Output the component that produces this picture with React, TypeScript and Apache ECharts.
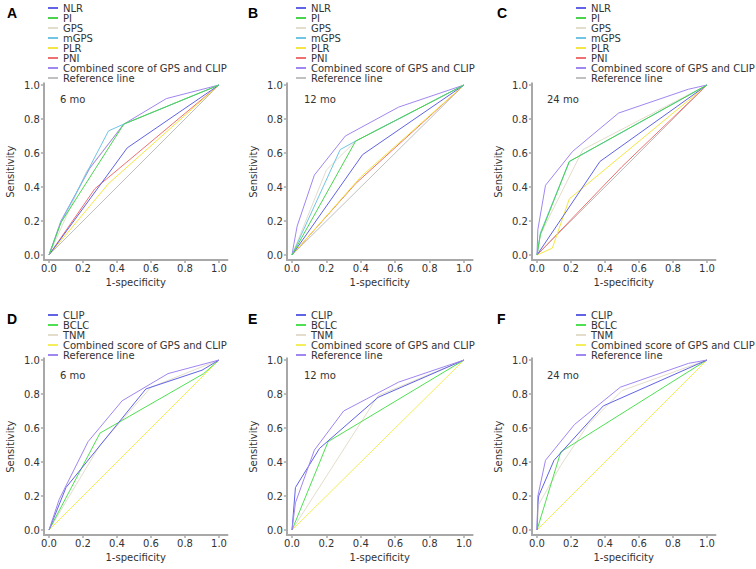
import React, { useEffect, useRef } from "react";
import * as echarts from "echarts";

// ---------- data (1-specificity, sensitivity) ----------
// Panel A, 6 mo
const A_NLR = [[0, 0], [0.46, 0.63], [1, 1]];
const A_PI = [[0, 0], [0.07, 0.19], [0.44, 0.77], [1, 1]];
const A_GPS = [[0, 0], [0.22, 0.49], [0.44, 0.77], [1, 1]];
const A_mGPS = [[0, 0], [0.07, 0.19], [0.23, 0.5], [0.35, 0.73], [0.44, 0.77], [1, 1]];
const A_PLR = [[0, 0], [0.35, 0.42], [1, 1]];
const A_PNI = [[0, 0], [0.27, 0.39], [1, 1]];
const A_COMB = [[0, 0], [0.07, 0.2], [0.24, 0.51], [0.44, 0.77], [0.69, 0.92], [1, 1]];
const A_REF = [[0, 0], [1, 1]];
// Panel B, 12 mo
const B_NLR = [[0, 0], [0.41, 0.59], [1, 1]];
const B_PI = [[0, 0], [0.37, 0.67], [1, 1]];
const B_GPS = [[0, 0], [0.2, 0.5], [0.37, 0.67], [1, 1]];
const B_mGPS = [[0, 0], [0.28, 0.62], [0.37, 0.67], [1, 1]];
const B_PLR = [[0, 0], [0.4, 0.46], [1, 1]];
const B_PNI = [[0, 0], [0.37, 0.42], [1, 1]];
const B_COMB = [[0, 0], [0.01, 0.06], [0.03, 0.17], [0.13, 0.47], [0.31, 0.7], [0.62, 0.87], [1, 1]];
const B_REF = [[0, 0], [1, 1]];
// Panel C, 24 mo
const C_NLR = [[0, 0], [0.37, 0.55], [1, 1]];
const C_PI = [[0, 0], [0.02, 0.12], [0.19, 0.55], [1, 1]];
const C_GPS = [[0, 0], [0.02, 0.12], [0.27, 0.62], [1, 1]];
const C_mGPS = [[0, 0], [0.02, 0.13], [0.19, 0.55], [1, 1]];
const C_PLR = [[0, 0], [0.09, 0.04], [0.19, 0.33], [1, 1]];
const C_PNI = [[0, 0], [0.5, 0.52], [1, 1]];
const C_COMB = [[0, 0], [0.005, 0.15], [0.05, 0.41], [0.21, 0.61], [0.48, 0.835], [0.89, 0.975], [1, 1]];
const C_REF = [[0, 0], [1, 1]];
// Panel D, 6 mo
const D_CLIP = [[0, 0], [0.1, 0.25], [0.57, 0.83], [0.9, 0.94], [1, 1]];
const D_BCLC = [[0, 0], [0.3, 0.57], [0.91, 0.92], [1, 1]];
const D_TNM = [[0, 0], [0.3, 0.5], [0.6, 0.84], [1, 1]];
const D_COMB = [[0, 0], [1, 1]];
const D_REF = [[0, 0], [0.06, 0.18], [0.23, 0.52], [0.43, 0.76], [0.7, 0.92], [1, 1]];
// Panel E, 12 mo
const E_CLIP = [[0, 0], [0.02, 0.25], [0.16, 0.48], [0.5, 0.78], [1, 1]];
const E_BCLC = [[0, 0], [0.21, 0.52], [1, 1]];
const E_TNM = [[0, 0], [0.5, 0.79], [1, 1]];
const E_COMB = [[0, 0], [1, 1]];
const E_REF = [[0, 0], [0.02, 0.16], [0.13, 0.47], [0.3, 0.7], [0.62, 0.87], [1, 1]];
// Panel F, 24 mo
const F_CLIP = [[0, 0], [0.005, 0.15], [0.01, 0.2], [0.1, 0.41], [0.39, 0.73], [1, 1]];
const F_BCLC = [[0, 0], [0.14, 0.46], [1, 1]];
const F_TNM = [[0, 0], [0.01, 0.15], [0.14, 0.38], [0.3, 0.62], [0.5, 0.82], [1, 1]];
const F_COMB = [[0, 0], [1, 1]];
const F_REF = [[0, 0], [0.005, 0.2], [0.05, 0.41], [0.22, 0.62], [0.49, 0.84], [0.89, 0.98], [1, 1]];

const TICKS = [0, 0.2, 0.4, 0.6, 0.8, 1.0];
const LEGEND_TOP = ["NLR", "PI", "GPS", "mGPS", "PLR", "PNI", "Combined score of GPS and CLIP", "Reference line"];
const LEGEND_BOTTOM = ["CLIP", "BCLC", "TNM", "Combined score of GPS and CLIP", "Reference line"];
const LETTERS = ["A", "B", "C", "D", "E", "F"];
const PERIODS = ["6 mo", "12 mo", "24 mo", "6 mo", "12 mo", "24 mo"];

// ---------- styles ----------
const C_BLUE = "#6063e4";
const C_GREEN = "#4ad44e";
const C_BEIGE = "#e4ddcb";
const C_LBLUE = "#70c4e4";
const C_YELLOW = "#f3e644";
const C_RED = "#ef7070";
const C_PURPLE = "#a086f0";
const C_GREY = "#c0c0c0";

const TOP_COLORS: Record<string, string> = {
  NLR: C_BLUE, PI: C_GREEN, GPS: C_BEIGE, mGPS: C_LBLUE, PLR: C_YELLOW, PNI: C_RED,
  "Combined score of GPS and CLIP": C_PURPLE, "Reference line": C_GREY,
};
const BOTTOM_COLORS: Record<string, string> = {
  CLIP: C_BLUE, BCLC: "#4fe052", TNM: C_BEIGE, "Combined score of GPS and CLIP": "#f3ee5a", "Reference line": C_PURPLE,
};

const PANEL_DATA: Record<string, any>[] = [
  { NLR: A_NLR, PI: A_PI, GPS: A_GPS, mGPS: A_mGPS, PLR: A_PLR, PNI: A_PNI, "Combined score of GPS and CLIP": A_COMB, "Reference line": A_REF },
  { NLR: B_NLR, PI: B_PI, GPS: B_GPS, mGPS: B_mGPS, PLR: B_PLR, PNI: B_PNI, "Combined score of GPS and CLIP": B_COMB, "Reference line": B_REF },
  { NLR: C_NLR, PI: C_PI, GPS: C_GPS, mGPS: C_mGPS, PLR: C_PLR, PNI: C_PNI, "Combined score of GPS and CLIP": C_COMB, "Reference line": C_REF },
  { CLIP: D_CLIP, BCLC: D_BCLC, TNM: D_TNM, "Combined score of GPS and CLIP": D_COMB, "Reference line": D_REF },
  { CLIP: E_CLIP, BCLC: E_BCLC, TNM: E_TNM, "Combined score of GPS and CLIP": E_COMB, "Reference line": E_REF },
  { CLIP: F_CLIP, BCLC: F_BCLC, TNM: F_TNM, "Combined score of GPS and CLIP": F_COMB, "Reference line": F_REF },
];

// draw order (bottom first)
const TOP_ORDER = ["Reference line", "PNI", "PLR", "GPS", "NLR", "Combined score of GPS and CLIP", "mGPS", "PI"];
const BOTTOM_ORDER = ["Combined score of GPS and CLIP", "TNM", "BCLC", "CLIP", "Reference line"];

// layout (pixel positions of data 0 and 1 on each axis)
const LAYOUT = [
  { x0: 49, x1: 219, yb: 255, yt: 85, lgLeft: 48, lgTop: 3, letterX: 7, letterY: 13, moX: 60, moY: 99 },
  { x0: 292, x1: 464, yb: 255, yt: 85, lgLeft: 296, lgTop: 3, letterX: 248, letterY: 13, moX: 304, moY: 99 },
  { x0: 537, x1: 707, yb: 255, yt: 85, lgLeft: 576, lgTop: 3, letterX: 497, letterY: 13, moX: 547, moY: 99 },
  { x0: 49, x1: 219, yb: 530, yt: 360, lgLeft: 48, lgTop: 310, letterX: 7, letterY: 319, moX: 60, moY: 375 },
  { x0: 292, x1: 464, yb: 530, yt: 360, lgLeft: 296, lgTop: 310, letterX: 248, letterY: 319, moX: 304, moY: 375 },
  { x0: 537, x1: 707, yb: 530, yt: 360, lgLeft: 576, lgTop: 310, letterX: 497, letterY: 319, moX: 547, moY: 375 },
];

const FONT = "DejaVu Sans, Verdana, sans-serif";
const AX = "#a8a8a8";
const XMIN = -0.03, XMAX = 1.05, YMIN = -0.03, YMAX = 1.01;

function buildOption() {
  const grid: any[] = [], xAxis: any[] = [], yAxis: any[] = [], series: any[] = [], legend: any[] = [], graphic: any[] = [];
  LAYOUT.forEach((L, i) => {
    const w = L.x1 - L.x0, h = L.yb - L.yt;
    grid.push({
      left: L.x0 + XMIN * w, width: (XMAX - XMIN) * w,
      top: L.yt - (YMAX - 1) * h, height: (YMAX - YMIN) * h,
    });
    const common = {
      type: "value", gridIndex: i,
      axisLine: { show: true, onZero: false, lineStyle: { color: AX, width: 2 } },
      axisTick: { show: true, length: 3, customValues: TICKS, lineStyle: { color: AX, width: 1.5 } },
      axisLabel: { customValues: TICKS, formatter: (v: number) => v.toFixed(1), color: "#333", fontFamily: FONT, fontSize: 10, margin: 3 },
      splitLine: { show: false },
      nameLocation: "middle",
      nameTextStyle: { color: "#333", fontFamily: FONT, fontSize: 10 },
    };
    xAxis.push({ ...common, min: XMIN, max: XMAX, name: "1-specificity", nameGap: 17 });
    yAxis.push({ ...common, min: YMIN, max: YMAX, name: "Sensitivity", nameGap: 28,
      axisLabel: { ...common.axisLabel, margin: 4 } });

    const top = i < 3;
    const order = top ? TOP_ORDER : BOTTOM_ORDER;
    const colors = top ? TOP_COLORS : BOTTOM_COLORS;
    const names = top ? LEGEND_TOP : LEGEND_BOTTOM;
    order.forEach((nm) => {
      series.push({
        type: "line", name: LETTERS[i] + "|" + nm, xAxisIndex: i, yAxisIndex: i,
        data: PANEL_DATA[i][nm], showSymbol: false, symbol: "none", color: colors[nm],
        lineStyle: { color: colors[nm], width: 1 }, silent: true,
      });
    });
    legend.push({
      orient: "vertical", left: L.lgLeft, top: L.lgTop, itemWidth: 10, itemHeight: 2, itemGap: 0,
      icon: "rect", selectedMode: false, padding: 0,
      data: names.map((nm) => ({ name: LETTERS[i] + "|" + nm, itemStyle: { color: colors[nm] } })),
      formatter: (n: string) => n.split("|")[1],
      textStyle: { color: "#333", fontFamily: FONT, fontSize: 10, lineHeight: 9.2, padding: 0 },
    });
    graphic.push({
      type: "text", x: L.letterX, y: L.letterY,
      style: { text: LETTERS[i], font: "bold 14px Liberation Sans, Arial, sans-serif", fill: "#000",
        align: "left", verticalAlign: "middle", textAlign: "left", textVerticalAlign: "middle" },
    });
    graphic.push({
      type: "text", x: L.moX, y: L.moY,
      style: { text: PERIODS[i], font: "10px " + FONT, fill: "#333",
        align: "left", verticalAlign: "middle", textAlign: "left", textVerticalAlign: "middle" },
    });
  });
  return { animation: false, backgroundColor: "#fff", grid, xAxis, yAxis, series, legend, graphic };
}

export default function App() {
  const ref = useRef<HTMLDivElement>(null);
  useEffect(() => {
    const chart = echarts.init(ref.current!, null, { renderer: "svg", width: 756, height: 569 });
    chart.setOption(buildOption() as any);
    return () => chart.dispose();
  }, []);
  return <div ref={ref} style={{ position: "fixed", left: 0, top: 0, width: 756, height: 569, background: "#fff" }} />;
}
